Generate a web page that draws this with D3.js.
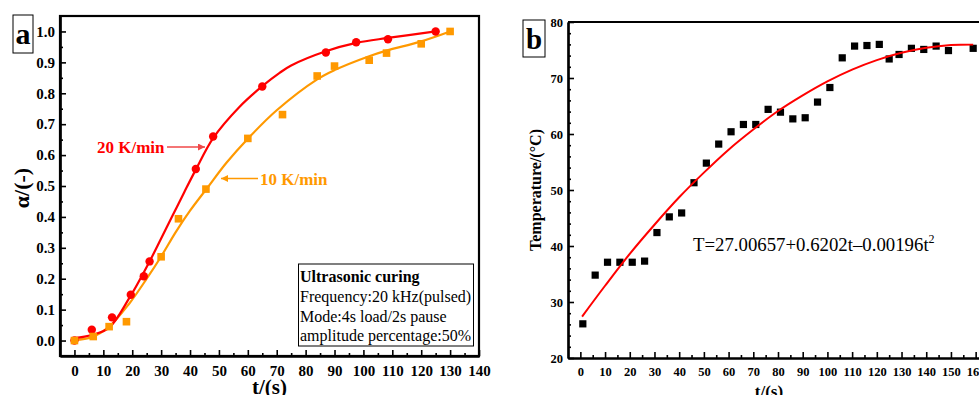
<!DOCTYPE html>
<html>
<head>
<meta charset="utf-8">
<script src="https://cdn.jsdelivr.net/npm/d3@7"></script>
<style>
  body { margin: 0; background: #fff; }
  svg { display: block; font-family: "Liberation Serif", "Times New Roman", serif; }
</style>
</head>
<body>
<div id="chart"></div>
<script>
// panel a: conversion data, 20 K/min (red circles) and 10 K/min (orange squares)
var redT = [0, 6, 13, 19.5, 24, 26, 42, 48, 65, 87, 97.5, 108.5, 125];
var redAlpha = [0, 0.035, 0.075, 0.148, 0.208, 0.256, 0.555, 0.66, 0.822, 0.932, 0.965, 0.975, 1.0];
var orangeT = [0, 6.5, 12, 18, 30, 36, 45.5, 60, 72, 84, 90, 102, 108, 120, 130];
var orangeAlpha = [0, 0.013, 0.045, 0.061, 0.271, 0.394, 0.49, 0.654, 0.731, 0.856, 0.888, 0.907, 0.93, 0.96, 1.0];

// fitted curves
var redFitT = [0, 6, 12, 19, 26, 30, 34, 38, 42, 48, 57, 65, 71, 75, 87, 97.5, 108.5, 125];
var redFitAlpha = [0.008, 0.018, 0.042, 0.138, 0.256, 0.33, 0.405, 0.48, 0.553, 0.655, 0.755, 0.823, 0.866, 0.89, 0.936, 0.963, 0.979, 1.0];
var orangeFitT = [0, 6, 12, 19, 25, 30, 35, 40, 46, 52.6, 60, 70, 84, 90, 102, 108, 120, 130];
var orangeFitAlpha = [0.002, 0.011, 0.045, 0.12, 0.2, 0.272, 0.35, 0.42, 0.494, 0.575, 0.653, 0.745, 0.845, 0.875, 0.92, 0.938, 0.968, 1.0];

var aXTicks = d3.range(0, 141, 10);
var aYTicks = d3.range(0, 11).map(function(i) { return i / 10; });
var legendLines = ["Frequency:20 kHz(pulsed)", "Mode:4s load/2s pause", "amplitude percentage:50%"];

// panel b: temperature data
var tempT = [1, 6, 11, 16, 21, 26, 31, 36, 41, 46, 51, 56, 61, 66, 71, 76, 81, 86, 91, 96, 101, 106, 111, 116, 121, 125, 129, 134, 139, 144, 149, 159];
var tempVal = [26.1, 34.8, 37.1, 37.1, 37.1, 37.3, 42.4, 45.2, 45.9, 51.3, 54.8, 58.2, 60.4, 61.7, 61.7, 64.4, 63.9, 62.7, 62.9, 65.7, 68.3, 73.6, 75.7, 75.8, 76.0, 73.4, 74.2, 75.3, 75.1, 75.7, 74.9, 75.3];
var tempFitT = [0.7, 10, 20, 30, 40, 50, 60, 70, 80, 90, 100, 110, 120, 130, 140, 150, 159];
var tempFitVal = [27.4, 32.9, 38.6, 43.8, 48.7, 53.1, 57.2, 60.8, 64.1, 66.9, 69.4, 71.5, 73.2, 74.5, 75.4, 75.9, 76.0];

var bXTicks = d3.range(0, 161, 10);
var bYTicks = d3.range(20, 81, 10);

var RED = "#ff0000";
var ORANGE = "#ff9900";

var svg = d3.select("#chart").append("svg")
  .attr("width", 979)
  .attr("height", 395);

function drawAxes(g, x, y, xTicks, xMinor, yTicks, yMinor, fontSize, yFmt) {
  var bottom = y.range()[0];
  var left = x.range()[0];

  g.append("g")
    .attr("transform", "translate(0," + bottom + ")")
    .call(d3.axisBottom(x).tickValues(xMinor).tickSize(-3).tickSizeOuter(0).tickFormat(""));
  g.append("g")
    .attr("transform", "translate(0," + bottom + ")")
    .call(d3.axisBottom(x).tickValues(xTicks).tickSize(-6).tickSizeOuter(0).tickPadding(9))
    .selectAll("text").attr("font-size", fontSize).attr("font-weight", "bold")
    .attr("font-family", "Liberation Serif").attr("fill", "#000");

  g.append("g")
    .attr("transform", "translate(" + left + ",0)")
    .call(d3.axisLeft(y).tickValues(yMinor).tickSize(-3).tickSizeOuter(0).tickFormat(""));
  g.append("g")
    .attr("transform", "translate(" + left + ",0)")
    .call(d3.axisLeft(y).tickValues(yTicks).tickSize(-6).tickSizeOuter(0).tickPadding(5).tickFormat(yFmt))
    .selectAll("text").attr("font-size", fontSize).attr("font-weight", "bold")
    .attr("font-family", "Liberation Serif").attr("fill", "#000");

  g.selectAll(".domain").attr("stroke-width", 2.2);
  g.selectAll(".tick line").attr("stroke-width", 1.6);
}

// ---------------- panel a ----------------
var ax = d3.scaleLinear().domain([-5, 140]).range([60, 479]);
var ay = d3.scaleLinear().domain([-0.05, 1.05]).range([356, 16]);
var ga = svg.append("g");

ga.append("rect")
  .attr("x", ax.range()[0]).attr("y", ay.range()[1])
  .attr("width", ax.range()[1] - ax.range()[0])
  .attr("height", ay.range()[0] - ay.range()[1])
  .attr("fill", "none").attr("stroke", "#000").attr("stroke-width", 2.2);

drawAxes(ga, ax, ay, aXTicks, d3.range(5, 140, 10), aYTicks,
  d3.range(0, 10).map(function(i) { return i / 10 + 0.05; }),
  15, d3.format(".1f"));

var lineA = d3.line().curve(d3.curveCatmullRom.alpha(0.5))
  .x(function(d) { return ax(d[0]); })
  .y(function(d) { return ay(d[1]); });

ga.append("path")
  .datum(orangeFitT.map(function(t, i) { return [t, orangeFitAlpha[i]]; }))
  .attr("d", lineA).attr("fill", "none").attr("stroke", ORANGE).attr("stroke-width", 2.2);
ga.append("path")
  .datum(redFitT.map(function(t, i) { return [t, redFitAlpha[i]]; }))
  .attr("d", lineA).attr("fill", "none").attr("stroke", RED).attr("stroke-width", 2.2);

ga.selectAll("circle.red")
  .data(redT.map(function(t, i) { return [t, redAlpha[i]]; }))
  .enter().append("circle")
  .attr("class", "red")
  .attr("cx", function(d) { return ax(d[0]); })
  .attr("cy", function(d) { return ay(d[1]); })
  .attr("r", 4.2).attr("fill", RED);

ga.selectAll("rect.orange")
  .data(orangeT.map(function(t, i) { return [t, orangeAlpha[i]]; }))
  .enter().append("rect")
  .attr("class", "orange")
  .attr("x", function(d) { return ax(d[0]) - 3.8; })
  .attr("y", function(d) { return ay(d[1]) - 3.8; })
  .attr("width", 7.6).attr("height", 7.6).attr("fill", ORANGE);

// arrows and rate labels
var defs = svg.append("defs");
[["headRed", "#f04848"], ["headOrange", ORANGE]].forEach(function(m) {
  defs.append("marker")
    .attr("id", m[0]).attr("viewBox", "0 0 10 10")
    .attr("refX", 10).attr("refY", 5)
    .attr("markerWidth", 9).attr("markerHeight", 7)
    .attr("markerUnits", "userSpaceOnUse")
    .attr("orient", "auto")
    .append("path").attr("d", "M0,0L10,5L0,10Z").attr("fill", m[1]);
});

ga.append("line")
  .attr("x1", 167).attr("y1", 147).attr("x2", 205).attr("y2", 147)
  .attr("stroke", "#f04848").attr("stroke-width", 1.5).attr("marker-end", "url(#headRed)");
ga.append("text")
  .attr("x", 97).attr("y", 152.5)
  .attr("font-size", 17).attr("font-weight", "bold").attr("fill", RED)
  .text("20 K/min");

ga.append("line")
  .attr("x1", 258).attr("y1", 178.5).attr("x2", 221).attr("y2", 178.5)
  .attr("stroke", ORANGE).attr("stroke-width", 1.5).attr("marker-end", "url(#headOrange)");
ga.append("text")
  .attr("x", 260).attr("y", 185)
  .attr("font-size", 17).attr("font-weight", "bold").attr("fill", ORANGE)
  .text("10 K/min");

// info box
ga.append("rect")
  .attr("x", 298.5).attr("y", 264).attr("width", 175).attr("height", 82)
  .attr("fill", "#fff").attr("stroke", "#000").attr("stroke-width", 1);
ga.append("text")
  .attr("x", 300).attr("y", 282)
  .attr("font-size", 16).attr("font-weight", "bold")
  .text("Ultrasonic curing");
ga.selectAll("text.info")
  .data(legendLines)
  .enter().append("text")
  .attr("class", "info")
  .attr("x", 300)
  .attr("y", function(d, i) { return 302 + i * 19.5; })
  .attr("font-size", 16)
  .text(function(d) { return d; });

// panel letter
ga.append("rect").attr("x", 13).attr("y", 15).attr("width", 20).attr("height", 38)
  .attr("fill", "#fff").attr("stroke", "#000").attr("stroke-width", 1);
ga.append("text").attr("x", 23).attr("y", 44).attr("text-anchor", "middle")
  .attr("font-size", 30).attr("font-weight", "bold").text("a");

// axis titles
ga.append("text")
  .attr("x", ax(67.5)).attr("y", 394).attr("text-anchor", "middle")
  .attr("font-size", 21).attr("font-weight", "bold").text("t/(s)");
ga.append("text")
  .attr("transform", "translate(29,188) rotate(-90)")
  .attr("text-anchor", "middle")
  .attr("font-size", 22).attr("font-weight", "bold").text("\u03b1/(-)");

// ---------------- panel b ----------------
var bx = d3.scaleLinear().domain([-5, 165]).range([568, 988]);
var by = d3.scaleLinear().domain([20, 80]).range([358, 22]);
var gb = svg.append("g");

gb.append("line")
  .attr("x1", bx.range()[0]).attr("x2", bx.range()[1])
  .attr("y1", by.range()[1]).attr("y2", by.range()[1])
  .attr("stroke", "#000").attr("stroke-width", 2.2);

drawAxes(gb, bx, by, bXTicks, d3.range(5, 165, 10), bYTicks,
  d3.range(22, 80, 2).filter(function(v) { return v % 10 != 0; }),
  12.5, d3.format("d"));

var lineB = d3.line().curve(d3.curveCatmullRom.alpha(0.5))
  .x(function(d) { return bx(d[0]); })
  .y(function(d) { return by(d[1]); });

gb.selectAll("rect.temp")
  .data(tempT.map(function(t, i) { return [t, tempVal[i]]; }))
  .enter().append("rect")
  .attr("class", "temp")
  .attr("x", function(d) { return bx(d[0]) - 3.6; })
  .attr("y", function(d) { return by(d[1]) - 3.6; })
  .attr("width", 7.2).attr("height", 7.2).attr("fill", "#000");

gb.append("path")
  .datum(tempFitT.map(function(t, i) { return [t, tempFitVal[i]]; }))
  .attr("d", lineB).attr("fill", "none").attr("stroke", RED).attr("stroke-width", 2);

var eq = gb.append("text")
  .attr("x", 693).attr("y", 251)
  .attr("font-size", 18.8);
eq.append("tspan").text("T=27.00657+0.6202t\u20130.00196t");
eq.append("tspan").attr("dy", -8).attr("font-size", 12).text("2");

gb.append("rect").attr("x", 523).attr("y", 20).attr("width", 22).attr("height", 37)
  .attr("fill", "#fff").attr("stroke", "#000").attr("stroke-width", 1);
gb.append("text").attr("x", 534).attr("y", 49).attr("text-anchor", "middle")
  .attr("font-size", 29).attr("font-weight", "bold").text("b");

gb.append("text")
  .attr("x", 769).attr("y", 397).attr("text-anchor", "middle")
  .attr("font-size", 17).attr("font-weight", "bold").text("t/(s)");
gb.append("text")
  .attr("transform", "translate(541,190) rotate(-90)")
  .attr("text-anchor", "middle")
  .attr("font-size", 16).attr("font-weight", "bold").text("Temperature/(\u00b0C)");
</script>
</body>
</html>
